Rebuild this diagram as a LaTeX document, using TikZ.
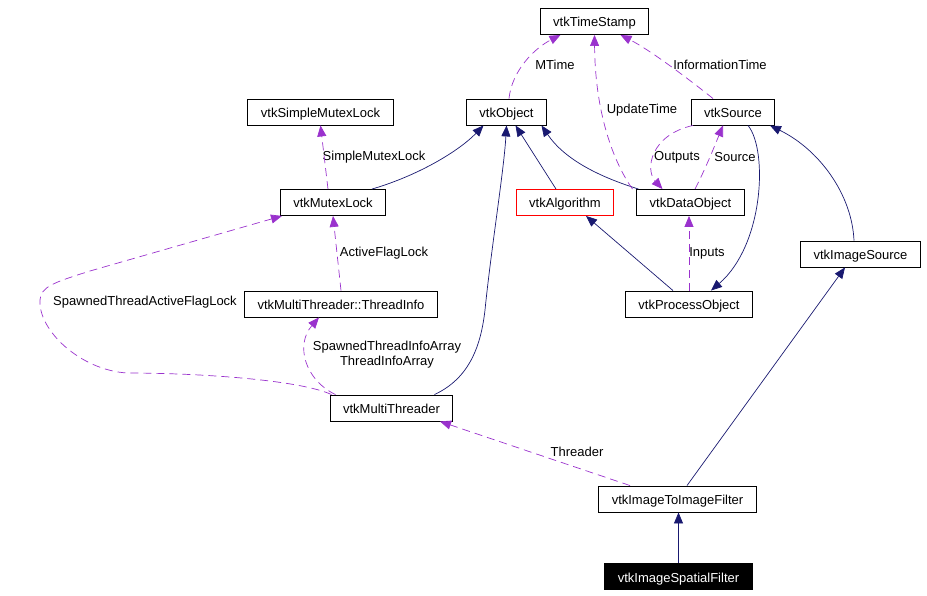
\documentclass[tikz,border=0pt]{standalone}
\usepackage{fontspec}
\setmainfont{Liberation Sans}
\usepackage{tikz}
\usetikzlibrary{positioning}
\usetikzlibrary{arrows.meta}
\definecolor{inherit}{RGB}{25,25,112}
\definecolor{uses}{RGB}{154,50,205}
\tikzset{% customization of boxes and edges
        cls/.style={draw, line width=0.9pt, minimum height=26pt, inner xsep=13pt, inner ysep=0pt, text height=12pt, text depth=1pt, font=\fontsize{13}{15}\selectfont},
        lbl/.style={inner sep=0pt, font=\fontsize{13}{15}\selectfont, align=center},
        base/.style={draw=inherit, line width=0.7pt, -{Triangle[length=11pt,width=9pt]}},
        member/.style={draw=uses, line width=0.7pt, dash pattern=on 8pt off 5pt, -{Triangle[length=11pt,width=9pt]}}
        }

\begin{document}
\begin{tikzpicture}[x=1pt,y=-1pt]
 \useasboundingbox (0,0) rectangle (927,596);
 \node [cls] (stamp) at (594.5,21.5) {vtkTimeStamp};
 \node [cls] (object) at (506.5,112) {vtkObject};
 \node [cls] (source) at (733,112) {vtkSource};
 \node [cls] (simple) at (320.5,112) {vtkSimpleMutexLock};
 \node [cls] (mutex) at (333,202.5) {vtkMutexLock};
 \node [cls, draw=red] (algo) at (565,202.5) {vtkAlgorithm};
 \node [cls] (data) at (690.5,202.5) {vtkDataObject};
 \node [cls] (info) at (341,304) {vtkMultiThreader::ThreadInfo};
 \node [cls] (process) at (689,304) {vtkProcessObject};
 \node [cls] (imgsrc) at (860.5,254) {vtkImageSource};
 \node [cls] (threader) at (391.5,408) {vtkMultiThreader};
 \node [cls] (img2img) at (677.5,499) {vtkImageToImageFilter};
 \node [cls, fill=black, text=white] (spatial) at (678.5,576.5) {vtkImageSpatialFilter};
 \node [lbl] (lMTime) at (555,65) {MTime};
 \node [lbl] (lUpdate) at (642,110) {UpdateTime};
 \node [lbl] (lInfoTime) at (720,65) {InformationTime};
 \node [lbl] (lOutputs) at (677,157) {Outputs};
 \node [lbl] (lSource) at (735,157) {Source};
 \node [lbl] (lSimple) at (374,157) {SimpleMutexLock};
 \node [lbl] (lActive) at (384,253) {ActiveFlagLock};
 \node [lbl] (lSpawnedLock) at (145,302) {SpawnedThreadActiveFlagLock};
 \node [lbl] (lArrays) at (387,355) {SpawnedThreadInfoArray\\ThreadInfoArray};
 \node [lbl] (lInputs) at (707,253) {Inputs};
 \node [lbl] (lThreader) at (577,452) {Threader};
\draw [base] ([xshift=39pt]mutex.north) .. controls (420,175) and (460,150) .. ([xshift=-23pt]object.south);
\draw [base] ([xshift=43pt]threader.north) .. controls (470,378) and (481,345) .. (485,310) .. controls (491,250) and (504,170) .. (object.south);
\draw [base] ([xshift=-9pt]algo.north) -- ([xshift=9pt]object.south);
\draw [base] ([xshift=-52pt]data.north) .. controls (600,177) and (565,160) .. ([xshift=35pt]object.south);
\draw [base] ([xshift=15pt]source.south) .. controls (768,150) and (764,245) .. ([xshift=22pt]process.north);
\draw [base] ([xshift=-16pt]process.north) -- ([xshift=21pt]algo.south);
\draw [base] ([xshift=-6.5pt]imgsrc.north) .. controls (852,195) and (820,150) .. ([xshift=37pt]source.south);
\draw [base] ([xshift=9.5pt]img2img.north) -- ([xshift=-15.5pt]imgsrc.south);
\draw [base] (spatial.north) -- (spatial.north |- img2img.south);
\draw [member] ([xshift=2.5pt]object.north) .. controls (512,70) and (535,48) .. ([xshift=-34pt]stamp.south);
\draw [member] ([xshift=-58pt]data.north) .. controls (612,160) and (595,110) .. (stamp.south);
\draw [member] ([xshift=-20pt]source.north) .. controls (690,80) and (650,50) .. ([xshift=26pt]stamp.south);
\draw [member] ([xshift=-40pt]source.south) .. controls (650,135) and (645,170) .. ([xshift=-28pt]data.north);
\draw [member] ([xshift=4.5pt]data.north) .. controls (705,170) and (715,145) .. ([xshift=-10pt]source.south);
\draw [member] (process.north) -- ([xshift=-1.5pt]data.south);
\draw [member] ([xshift=-47.5pt]img2img.north) -- ([xshift=48.5pt]threader.south);
\draw [member] ([xshift=-56pt]threader.north) .. controls (305,380) and (295,345) .. ([xshift=-22pt]info.south);
\draw [member] (info.north) -- (mutex.south);
\draw [member] ([xshift=-5pt]mutex.north) -- (simple.south);
\draw [member] ([xshift=-60pt]threader.north) .. controls (300,380) and (200,373) .. (127,373) .. controls (80,370) and (38,330) .. (40,300) .. controls (41,287) and (52,283) .. (90,271) -- ([xshift=-51pt]mutex.south);
\end{tikzpicture}
\end{document}
